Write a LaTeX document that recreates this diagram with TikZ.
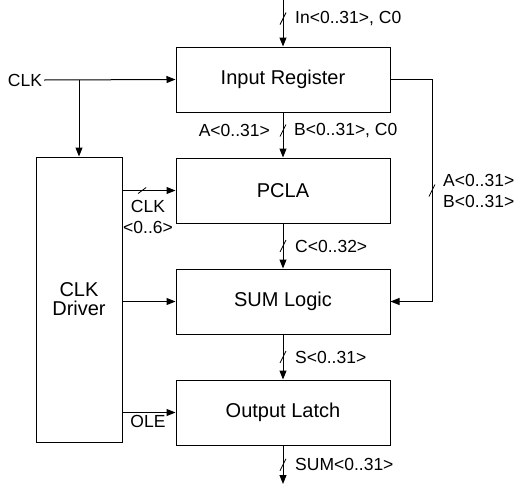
\documentclass[tikz,border=0pt]{standalone}
\usepackage{fontspec}
\setmainfont{Liberation Sans}
\usetikzlibrary{positioning,arrows.meta}

\tikzset{
  block/.style={draw, line width=1pt, minimum width=214pt, minimum height=65pt,
    font=\fontsize{20}{19}\selectfont},
  sig/.style={font=\fontsize{17.5}{21}\selectfont, inner sep=0pt},
  wire/.style={line width=1pt, -{Triangle[length=9pt,width=7pt]}},
}
% bus width marks
\newcommand{\vslash}[1]{\draw[line width=0.8pt] ([shift={(-3pt,-6pt)}]#1) -- ([shift={(3pt,6pt)}]#1);}
\newcommand{\hslash}[1]{\draw[line width=0.8pt] ([shift={(-4pt,-3pt)}]#1) -- ([shift={(4pt,3pt)}]#1);}

\begin{document}
\begin{tikzpicture}[x=1pt,y=1pt]
  \useasboundingbox (0,0) rectangle (518,-485);

  % main column
  \node[block] (ir) at (283,-79.5) {Input Register};
  \node[block, below=45pt of ir] (pcla) {PCLA};
  \node[block, below=45pt of pcla] (sum) {SUM Logic};
  \node[block, below=45pt of sum] (ol) {Output Latch};
  \node[block, minimum width=86pt, minimum height=285pt, align=center]
    (drv) at (79,-299.5) {CLK\\Driver};

  % clock input
  \node[sig, inner sep=2pt] (clk) at (25,-80) {CLK};
  \draw[wire] (clk.east) -- (ir.west);
  \draw[wire] (drv.north |- ir.west) -- (drv.north);

  % data path
  \coordinate (in) at (283,0);
  \coordinate (out) at (283,-484);
  \draw[wire] (in) -- coordinate[pos=0.4] (inm) (ir.north);
  \vslash{inm}
  \node[sig, anchor=west] at ([xshift=12pt]inm) {In<0..31>, C0};

  \draw[wire] (ir) -- coordinate[pos=0.4] (abm) (pcla);
  \vslash{abm}
  \node[sig, anchor=east] at ([xshift=-13pt]abm) {A<0..31>};
  \node[sig, anchor=west] at ([xshift=11pt]abm) {B<0..31>, C0};

  \draw[wire] (pcla) -- coordinate[pos=0.5] (cm) (sum);
  \vslash{cm}
  \node[sig, anchor=west] at ([xshift=12pt]cm) {C<0..32>};

  \draw[wire] (sum) -- coordinate[pos=0.5] (sm) (ol);
  \vslash{sm}
  \node[sig, anchor=west] at ([xshift=12pt]sm) {S<0..31>};

  \draw[wire] (ol.south) -- coordinate[pos=0.5] (om) (out);
  \vslash{om}
  \node[sig, anchor=west] at ([xshift=12pt]om) {SUM<0..31>};

  % bypass to SUM Logic
  \coordinate (tap) at (432,0);
  \draw[wire] (ir.east) -- (ir.east -| tap) -- coordinate[pos=0.5] (abr)
    (sum.east -| tap) -- (sum.east);
  \vslash{abr}
  \node[sig, anchor=west, align=left] at ([xshift=11pt]abr) {A<0..31>\\B<0..31>};

  % clock driver outputs
  \draw[wire] (drv.east |- pcla.west) -- coordinate[pos=0.37] (ckm) (pcla.west);
  \hslash{ckm}
  \node[sig, align=center] (ckl) at (148,-216.5) {CLK\\<0..6>};
  \draw[wire] (drv.east |- sum.west) -- (sum.west);
  \draw[wire] (drv.east |- ol.west) -- (ol.west);
  \node[sig] (ole) at (148,-421) {OLE};
\end{tikzpicture}
\end{document}
